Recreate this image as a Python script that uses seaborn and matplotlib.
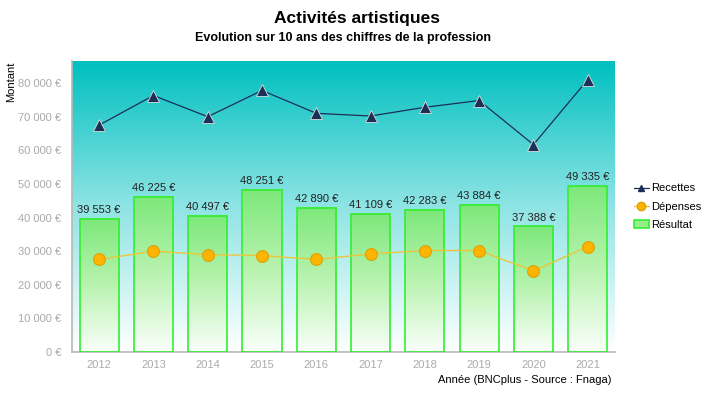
import numpy as np
import seaborn as sns
import matplotlib.pyplot as plt
from matplotlib.colors import LinearSegmentedColormap
from matplotlib.lines import Line2D
from matplotlib.patches import Patch

# Data
years = ["2012", "2013", "2014", "2015", "2016", "2017", "2018", "2019", "2020", "2021"]
resultat = [39553, 46225, 40497, 48251, 42890, 41109, 42283, 43884, 37388, 49335]
recettes = [67500, 76300, 70000, 77800, 71000, 70200, 72800, 74800, 61700, 81000]
depenses = [27550, 30000, 29000, 28700, 27550, 29200, 30200, 30200, 24100, 31400]
yticks = [0, 10000, 20000, 30000, 40000, 50000, 60000, 70000, 80000]


def euro(v):
    return f"{v:,.0f} €".replace(",", " ")


sns.set_style("white")
plt.rcParams["font.family"] = ["Liberation Sans", "DejaVu Sans"]
plt.rcParams["text.color"] = "black"

fig = plt.figure(figsize=(7.2, 4.08), dpi=100)
ax = fig.add_axes([0.1, 0.137, 0.754, 0.713])

ymax = 86500

# ------------------------------
# Bars (résultat)
# ------------------------------
sns.barplot(x=years, y=resultat, ax=ax, width=0.72,
            facecolor="none", edgecolor="#33ee33", linewidth=1.2, zorder=3)

# background gradient of the plot area
bg = LinearSegmentedColormap.from_list("bg", ["#ffffff", "#8fe4e4", "#00c0c0"])
grad = np.linspace(0, 1, 256).reshape(-1, 1)
ax.imshow(grad, extent=[-0.5, 9.5, 0, ymax], origin="lower", aspect="auto",
          cmap=bg, zorder=0)

# green gradient inside each bar
gc = LinearSegmentedColormap.from_list("gc", ["#fbfffb", "#b9f3b0", "#7de87a"])
for p, v in zip(ax.patches, resultat):
    x0 = p.get_x()
    w = p.get_width()
    ax.imshow(grad, extent=[x0, x0 + w, 0, p.get_height()], origin="lower",
              aspect="auto", cmap=gc, zorder=2)
    ax.text(x0 + w / 2, p.get_height() + 1100, euro(v), ha="center", va="bottom",
            fontsize=8, color="#222222", zorder=5)

# ------------------------------
# Lines (recettes / dépenses)
# ------------------------------
sns.pointplot(x=years, y=recettes, ax=ax, color="#1b2f57", markers="^",
              linestyles="-", linewidth=0.9, markersize=8,
              markeredgecolor="#dddddd", markeredgewidth=0.6, zorder=6)
sns.pointplot(x=years, y=depenses, ax=ax, color="#ebc63a", markers="o",
              linestyles="-", linewidth=1.0, markersize=8.5,
              markerfacecolor="#ffb400", markeredgecolor="#e0a000",
              markeredgewidth=0.8, zorder=6)

ax.set_xlim(-0.5, 9.5)
ax.set_ylim(0, ymax)
ax.set_yticks(yticks)
ax.set_yticklabels([euro(t) for t in yticks])
ax.tick_params(axis="both", colors="#b0b0b0", labelcolor="#aaaaaa",
               labelsize=8, length=4, width=0.8)
ax.tick_params(axis="x", length=0, pad=6)
for s in ["top", "right"]:
    ax.spines[s].set_visible(False)
for s in ["left", "bottom"]:
    ax.spines[s].set_color("#b8b8b8")
    ax.spines[s].set_linewidth(1.2)

ax.set_xlabel("")
ax.set_ylabel("")
fig.text(0.016, 0.85, "Montant", rotation=90, ha="center", va="top",
         fontsize=8, color="black")
fig.text(0.85, 0.068, "Année (BNCplus - Source : Fnaga)", ha="right",
         va="center", fontsize=8, color="black")

fig.text(0.496, 0.955, "Activités artistiques", ha="center", va="center",
         fontsize=12.5, fontweight="bold", color="black")
fig.text(0.476, 0.907, "Evolution sur 10 ans des chiffres de la profession",
         ha="center", va="center", fontsize=9, fontweight="bold", color="black")

# ------------------------------
# Legend
# ------------------------------
handles = [
    Line2D([], [], color="#1b2f57", marker="^", markersize=5, linewidth=0.9),
    Line2D([], [], color="#ebc63a", marker="o", markersize=6,
           markerfacecolor="#ffb400", markeredgecolor="#e0a000", linewidth=1.0),
    Patch(facecolor="#98ec90", edgecolor="#33ee33", linewidth=1.2),
]
fig.legend(handles, ["Recettes", "Dépenses", "Résultat"], loc="upper left",
           bbox_to_anchor=(0.866, 0.575), frameon=False, fontsize=8,
           handlelength=1.4, handletextpad=0.2, labelspacing=0.75)

fig.savefig("out.png", dpi=100)
